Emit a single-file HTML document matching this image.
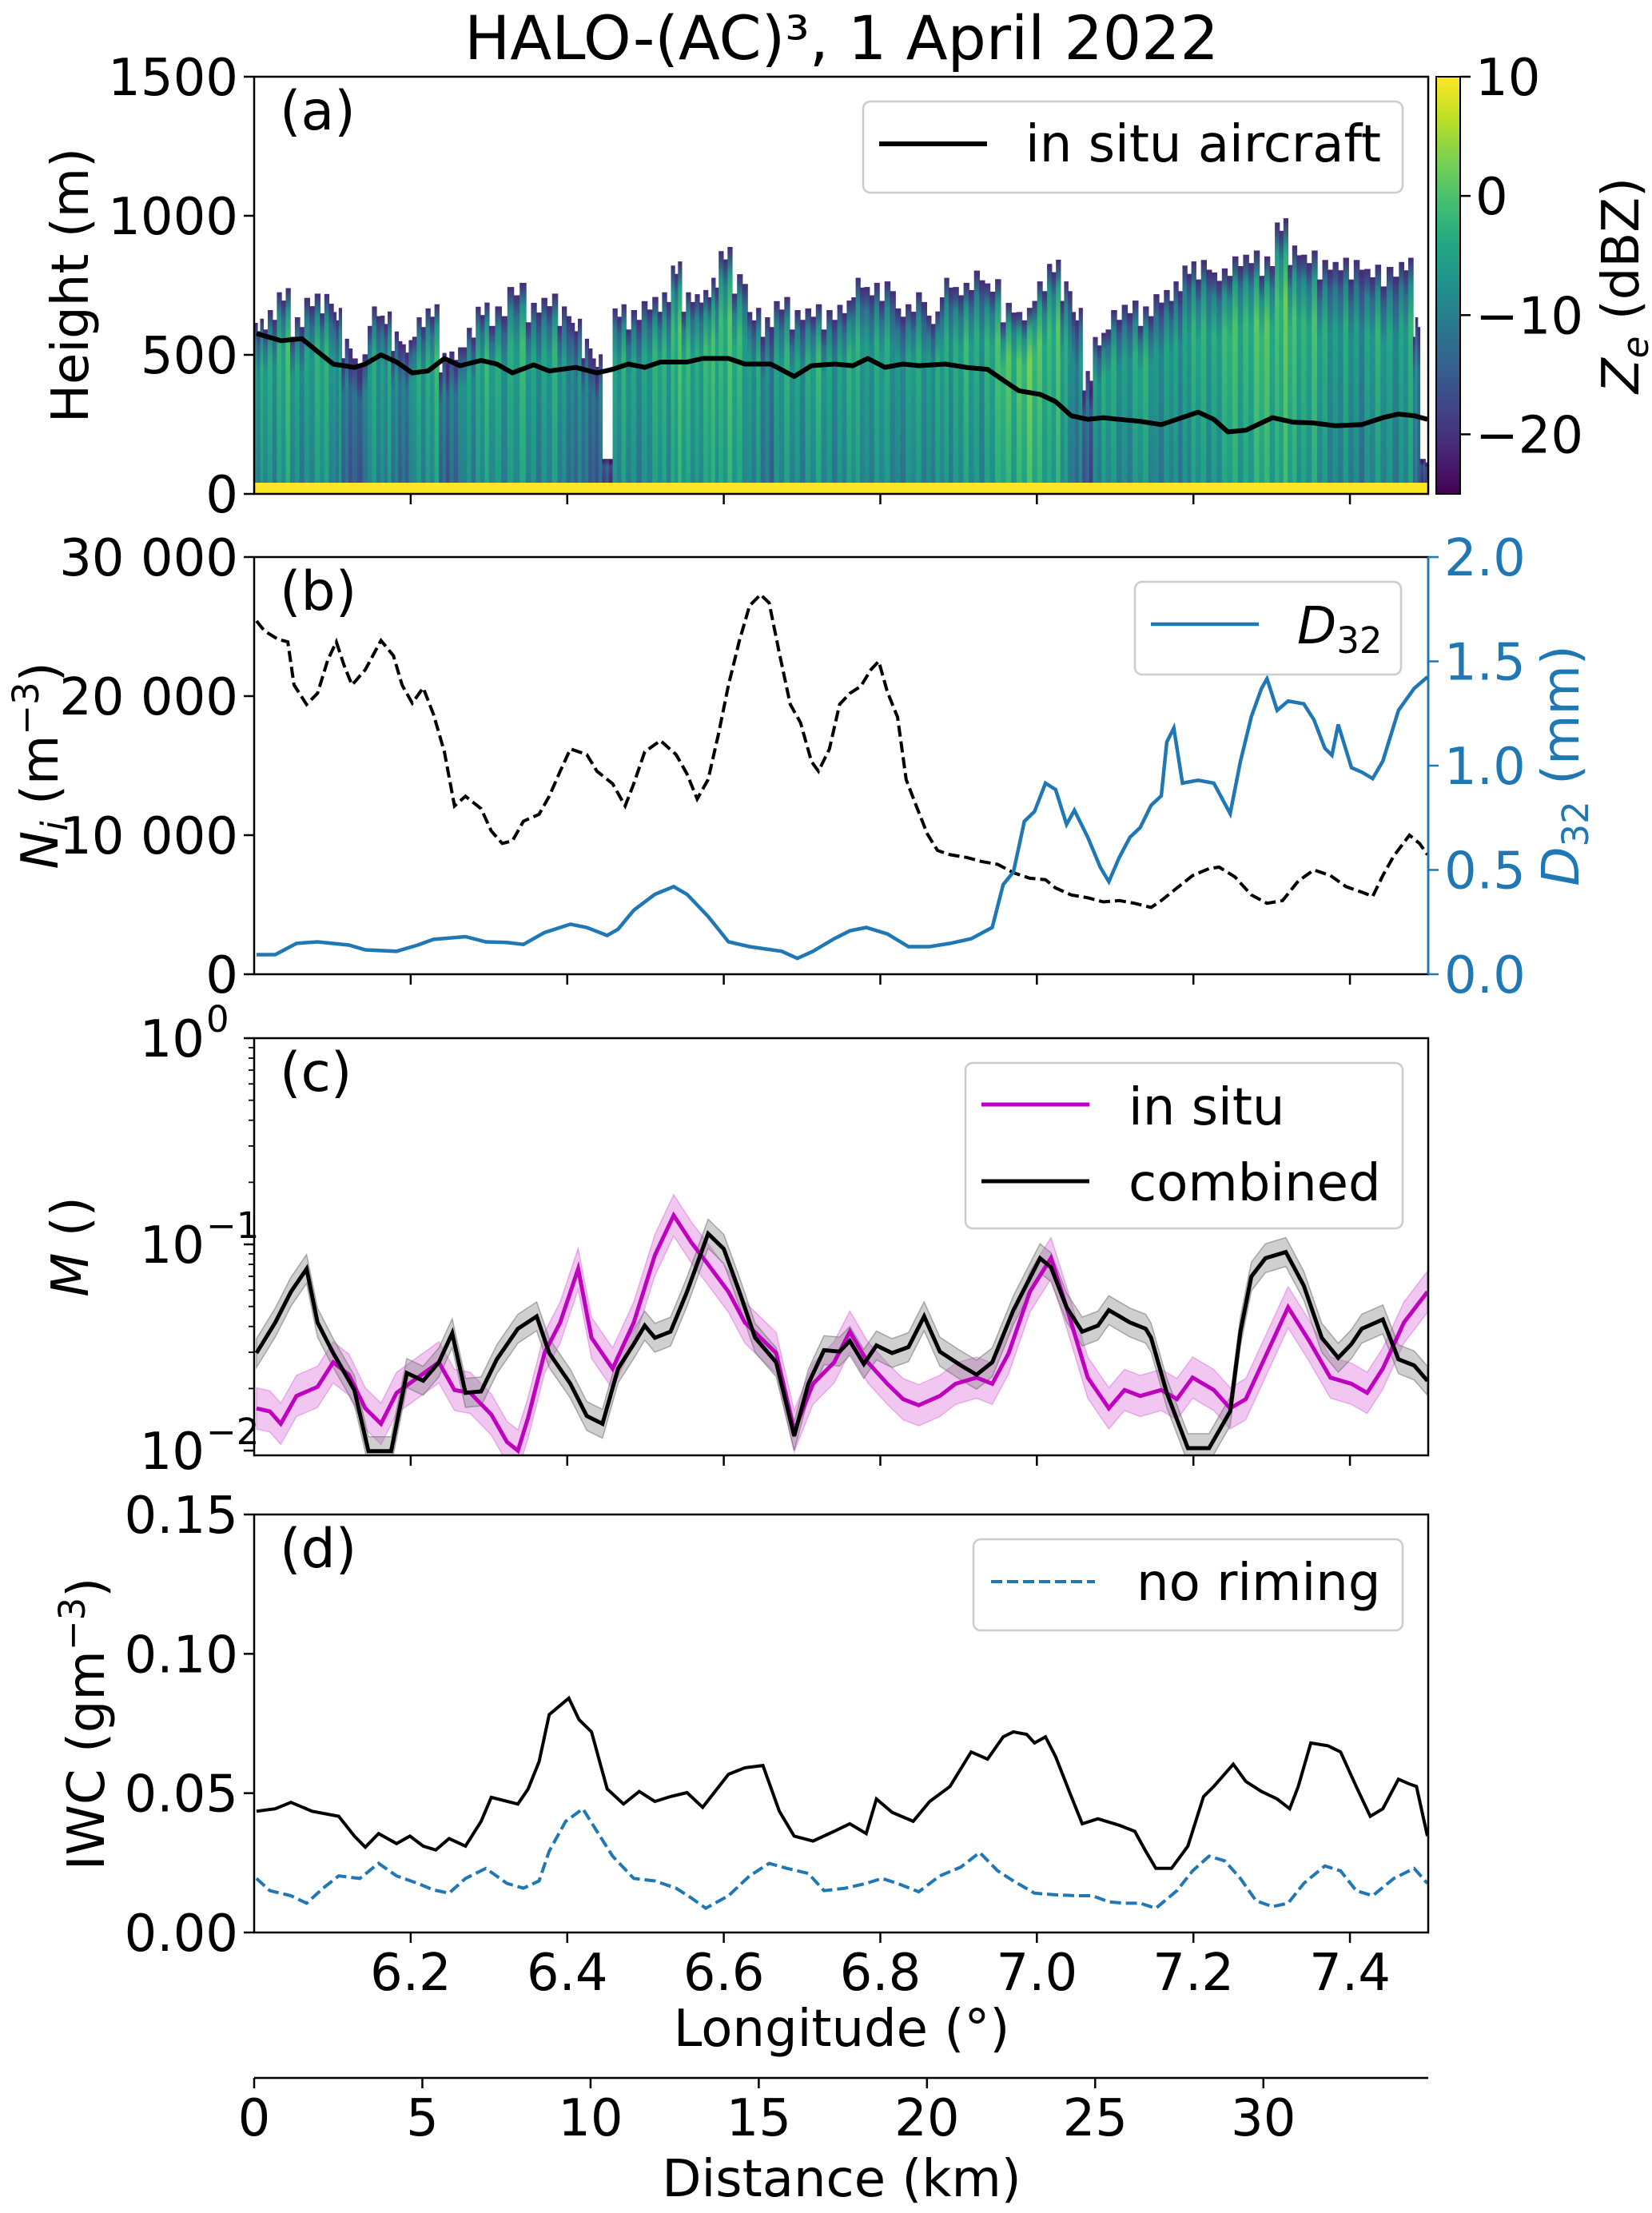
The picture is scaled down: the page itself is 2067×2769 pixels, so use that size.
<!DOCTYPE html>
<html><head><meta charset="utf-8"><style>
html,body{margin:0;padding:0;background:#fff;}
svg{display:block;font-family:"DejaVu Sans","Liberation Sans",sans-serif;}
</style></head><body>
<svg id="fig" xmlns="http://www.w3.org/2000/svg" width="2067" height="2769" viewBox="0 0 2067 2769">
<defs>
<linearGradient id="viridisV" x1="0" y1="1" x2="0" y2="0">
<stop offset="0" stop-color="#440154"/><stop offset="0.1" stop-color="#482475"/><stop offset="0.2" stop-color="#414487"/><stop offset="0.3" stop-color="#355f8d"/><stop offset="0.4" stop-color="#2a788e"/><stop offset="0.5" stop-color="#21918c"/><stop offset="0.6" stop-color="#22a884"/><stop offset="0.7" stop-color="#44bf70"/><stop offset="0.8" stop-color="#7ad151"/><stop offset="0.9" stop-color="#bddf26"/><stop offset="1" stop-color="#fde725"/>
</linearGradient>
<clipPath id="clipA"><rect x="318" y="96" width="1469" height="522"/></clipPath>
<clipPath id="clipB"><rect x="318" y="697" width="1469" height="522"/></clipPath>
<clipPath id="clipC"><rect x="318" y="1299" width="1469" height="522"/></clipPath>
<clipPath id="clipD"><rect x="318" y="1895" width="1469" height="523"/></clipPath>
</defs>
<text x="1053" y="74" font-size="76" text-anchor="middle">HALO-(AC)³, 1 April 2022</text>
<g id="layer"></g>
</svg>
<script>
// ---------- data ----------
const AC_LON=[6.003,6.034,6.061,6.081,6.101,6.128,6.142,6.162,6.182,6.202,6.222,6.243,6.263,6.290,6.310,6.330,6.357,6.377,6.411,6.438,6.458,6.478,6.499,6.519,6.553,6.573,6.606,6.627,6.660,6.690,6.712,6.741,6.765,6.784,6.806,6.829,6.849,6.883,6.910,6.937,6.957,6.977,7.004,7.024,7.044,7.065,7.085,7.105,7.132,7.159,7.179,7.206,7.226,7.244,7.267,7.301,7.327,7.354,7.381,7.415,7.442,7.462,7.482,7.499];
const AC_H=[577,551,558,512,467,455,467,500,474,435,442,487,461,480,467,435,464,442,455,435,448,467,455,474,474,487,487,467,467,422,461,467,461,487,455,467,461,467,455,448,409,371,358,332,281,268,274,268,261,249,268,294,268,223,229,274,258,255,245,249,274,287,281,268];
const RAD_LON=[6.003,6.020,6.038,6.054,6.074,6.094,6.108,6.115,6.135,6.155,6.168,6.182,6.195,6.209,6.229,6.243,6.256,6.276,6.290,6.310,6.337,6.357,6.377,6.398,6.411,6.425,6.438,6.451,6.465,6.485,6.505,6.526,6.539,6.553,6.573,6.586,6.601,6.620,6.640,6.654,6.674,6.694,6.714,6.735,6.755,6.771,6.788,6.809,6.829,6.849,6.869,6.883,6.903,6.923,6.943,6.964,6.984,7.004,7.022,7.038,7.051,7.065,7.078,7.098,7.119,7.139,7.159,7.179,7.193,7.213,7.233,7.253,7.274,7.294,7.314,7.327,7.348,7.368,7.388,7.408,7.429,7.449,7.476,7.485,7.493,7.499];
const RAD_TOP=[615,641,725,615,705,699,654,538,487,654,641,564,538,615,667,487,512,577,673,654,744,667,705,654,615,538,487,126,667,641,693,705,821,705,718,757,873,770,654,615,693,641,667,641,680,757,744,744,667,705,641,757,744,783,757,667,654,744,827,744,654,422,564,641,680,654,718,744,821,821,796,834,860,834,976,873,860,821,834,821,809,796,834,615,126,113];
const RAD_Z=[-5,-4,-2,-5,-4,-3,-6,-10,-11,-4,-5,-8,-9,-4,-3,-10,-9,-5,-3,-4,-3,-5,-4,-6,-8,-9,-11,-14,-4,-5,-4,-3,-1,-2,-3,-1,-1,-2,-5,-8,-4,-5,-3,-5,-4,-3,-5,-4,-6,-4,-5,-4,-3,-4,-2,0,1,0,-1,-4,-8,-12,-5,-4,-5,-3,-6,-5,-4,-3,-3,-1,-1,0,0,-1,-2,-4,-5,-6,-4,-5,-4,-8,-15,-15];
const NI_LON=[6.003,6.013,6.030,6.043,6.051,6.067,6.081,6.094,6.105,6.115,6.125,6.142,6.162,6.178,6.189,6.202,6.216,6.229,6.243,6.256,6.270,6.290,6.303,6.317,6.330,6.344,6.364,6.377,6.391,6.404,6.425,6.438,6.458,6.474,6.485,6.499,6.519,6.539,6.553,6.566,6.580,6.593,6.606,6.620,6.633,6.647,6.658,6.671,6.685,6.698,6.712,6.721,6.735,6.748,6.761,6.775,6.788,6.798,6.809,6.822,6.833,6.846,6.860,6.873,6.889,6.910,6.930,6.950,6.970,6.991,7.011,7.024,7.044,7.065,7.085,7.105,7.125,7.146,7.159,7.179,7.199,7.220,7.233,7.253,7.274,7.294,7.314,7.334,7.354,7.375,7.395,7.415,7.429,7.442,7.456,7.476,7.489,7.499];
const NI=[25400,24700,24100,23900,20800,19400,20200,22600,23900,22200,20800,21900,24000,22900,20800,19500,20600,18700,16000,12100,12800,11900,10300,9400,9600,11000,11500,12800,14600,16200,15800,14600,13700,12100,13700,16000,16800,15800,14400,12600,14000,17200,20800,24000,26500,27300,26700,23100,19400,18100,15300,14600,16200,19400,20200,20700,21900,22500,20300,18500,14000,12100,10100,8900,8600,8400,8100,7900,7300,6900,6800,6200,5700,5500,5200,5300,5100,4800,5300,6200,7100,7600,7700,7000,5700,5100,5300,6700,7500,7100,6300,5900,5600,7100,8500,10000,9400,8600];
const D32_LON=[6.003,6.027,6.054,6.081,6.121,6.142,6.182,6.209,6.229,6.270,6.296,6.323,6.344,6.371,6.404,6.425,6.451,6.465,6.485,6.512,6.536,6.553,6.580,6.606,6.633,6.674,6.694,6.714,6.741,6.761,6.782,6.809,6.836,6.863,6.889,6.916,6.943,6.957,6.970,6.984,6.997,7.011,7.024,7.038,7.048,7.065,7.081,7.092,7.105,7.119,7.132,7.146,7.159,7.166,7.175,7.186,7.206,7.226,7.247,7.260,7.274,7.287,7.294,7.307,7.321,7.341,7.354,7.368,7.377,7.385,7.402,7.415,7.429,7.442,7.462,7.482,7.499];
const D32=[0.094,0.094,0.148,0.155,0.14,0.117,0.11,0.14,0.167,0.18,0.155,0.152,0.143,0.2,0.24,0.224,0.186,0.216,0.307,0.383,0.42,0.383,0.277,0.155,0.132,0.11,0.076,0.11,0.17,0.208,0.224,0.193,0.132,0.132,0.148,0.17,0.224,0.43,0.49,0.733,0.78,0.916,0.885,0.718,0.786,0.657,0.513,0.444,0.558,0.657,0.703,0.81,0.855,1.113,1.18,0.916,0.93,0.916,0.77,1.02,1.235,1.37,1.417,1.265,1.31,1.296,1.22,1.083,1.05,1.197,0.99,0.969,0.938,1.022,1.265,1.37,1.425];
const MC_LON=[6.003,6.027,6.047,6.067,6.081,6.101,6.128,6.146,6.175,6.195,6.216,6.236,6.253,6.270,6.290,6.310,6.337,6.361,6.377,6.404,6.425,6.445,6.465,6.485,6.499,6.512,6.532,6.553,6.580,6.600,6.620,6.640,6.667,6.690,6.708,6.728,6.748,6.761,6.779,6.795,6.815,6.836,6.856,6.876,6.903,6.923,6.943,6.970,7.004,7.018,7.038,7.058,7.078,7.092,7.119,7.139,7.146,7.166,7.193,7.220,7.247,7.260,7.274,7.292,7.318,7.341,7.364,7.385,7.402,7.415,7.442,7.462,7.482,7.499];
const M_COMB=[-1.527,-1.379,-1.23,-1.119,-1.379,-1.527,-1.706,-2.003,-2.003,-1.624,-1.661,-1.572,-1.431,-1.72,-1.713,-1.557,-1.409,-1.349,-1.527,-1.676,-1.832,-1.87,-1.602,-1.483,-1.394,-1.453,-1.423,-1.23,-0.948,-1.022,-1.23,-1.453,-1.572,-1.929,-1.676,-1.513,-1.52,-1.468,-1.58,-1.49,-1.527,-1.498,-1.349,-1.52,-1.587,-1.632,-1.572,-1.319,-1.067,-1.111,-1.305,-1.423,-1.394,-1.319,-1.379,-1.409,-1.453,-1.72,-1.988,-1.988,-1.81,-1.423,-1.156,-1.067,-1.037,-1.2,-1.453,-1.55,-1.483,-1.409,-1.364,-1.557,-1.587,-1.661];
const MI_LON=[6.003,6.020,6.034,6.054,6.081,6.101,6.121,6.142,6.162,6.182,6.209,6.236,6.256,6.276,6.303,6.323,6.337,6.350,6.371,6.391,6.414,6.431,6.458,6.485,6.512,6.536,6.559,6.580,6.606,6.627,6.647,6.667,6.690,6.714,6.741,6.761,6.784,6.809,6.829,6.849,6.876,6.896,6.923,6.943,6.964,6.991,7.018,7.038,7.065,7.092,7.112,7.132,7.159,7.179,7.199,7.226,7.247,7.267,7.294,7.321,7.348,7.375,7.402,7.422,7.442,7.469,7.499];
const M_INSITU=[-1.795,-1.81,-1.87,-1.735,-1.691,-1.572,-1.632,-1.795,-1.87,-1.72,-1.646,-1.572,-1.706,-1.72,-1.825,-1.958,-2.0,-1.84,-1.527,-1.379,-1.119,-1.453,-1.602,-1.379,-1.052,-0.859,-0.993,-1.097,-1.23,-1.379,-1.453,-1.527,-1.906,-1.676,-1.572,-1.423,-1.572,-1.676,-1.75,-1.78,-1.735,-1.676,-1.646,-1.676,-1.527,-1.23,-1.067,-1.305,-1.646,-1.795,-1.706,-1.735,-1.706,-1.75,-1.646,-1.706,-1.795,-1.75,-1.527,-1.305,-1.468,-1.646,-1.676,-1.72,-1.602,-1.379,-1.23];
const IWC_LON=[6.003,6.027,6.047,6.074,6.108,6.128,6.142,6.159,6.182,6.199,6.216,6.232,6.249,6.270,6.290,6.303,6.337,6.350,6.364,6.377,6.402,6.415,6.431,6.451,6.472,6.492,6.512,6.532,6.553,6.573,6.606,6.627,6.650,6.671,6.690,6.714,6.741,6.761,6.782,6.795,6.815,6.842,6.863,6.889,6.916,6.937,6.957,6.970,6.987,6.997,7.011,7.024,7.044,7.058,7.078,7.105,7.125,7.139,7.152,7.172,7.193,7.213,7.226,7.251,7.267,7.287,7.307,7.323,7.334,7.350,7.372,7.388,7.408,7.426,7.442,7.462,7.476,7.485,7.499];
const IWC=[0.0435,0.0444,0.0467,0.0435,0.0417,0.0346,0.0306,0.0355,0.0319,0.0346,0.031,0.0296,0.0337,0.031,0.0399,0.0485,0.0461,0.0515,0.0613,0.0782,0.0841,0.0764,0.072,0.0515,0.0461,0.0506,0.047,0.0488,0.0502,0.0449,0.0568,0.0591,0.0599,0.0435,0.0346,0.0328,0.0363,0.039,0.0355,0.0479,0.0431,0.0399,0.047,0.0524,0.0648,0.0622,0.0702,0.072,0.0711,0.068,0.0702,0.0631,0.0488,0.039,0.0408,0.0385,0.0363,0.0292,0.023,0.023,0.031,0.0488,0.0524,0.0604,0.0542,0.0506,0.0479,0.0444,0.0524,0.068,0.067,0.0648,0.0524,0.0417,0.0444,0.055,0.0533,0.0524,0.0346];
const NR_LON=[6.003,6.020,6.047,6.067,6.088,6.108,6.135,6.159,6.182,6.209,6.229,6.249,6.270,6.296,6.323,6.344,6.364,6.377,6.398,6.420,6.438,6.458,6.485,6.512,6.539,6.559,6.577,6.606,6.633,6.658,6.681,6.708,6.728,6.755,6.782,6.802,6.822,6.849,6.876,6.903,6.927,6.950,6.970,6.997,7.024,7.051,7.071,7.092,7.112,7.132,7.152,7.179,7.199,7.220,7.240,7.260,7.280,7.301,7.321,7.341,7.368,7.388,7.408,7.429,7.456,7.482,7.499];
const IWC_NR=[0.0194,0.015,0.0132,0.0105,0.0159,0.0203,0.0194,0.0248,0.0203,0.0176,0.0153,0.0141,0.0194,0.023,0.0176,0.0159,0.0185,0.0292,0.0399,0.0444,0.0363,0.0274,0.0194,0.0185,0.0159,0.0123,0.0087,0.0132,0.0203,0.0248,0.023,0.0212,0.015,0.0159,0.0176,0.0194,0.0176,0.0146,0.0203,0.0235,0.0287,0.0221,0.0185,0.0141,0.0135,0.0132,0.0132,0.011,0.0105,0.0105,0.0087,0.015,0.0221,0.0274,0.0257,0.0194,0.0114,0.0093,0.0105,0.0176,0.0239,0.0221,0.015,0.0132,0.0194,0.023,0.0176];
const LON_TICKS=[6.2,6.4,6.6,6.8,7.0,7.2,7.4];
const LON_LABELS=["6.2","6.4","6.6","6.8","7.0","7.2","7.4"];
const KM_TICKS=[0,5,10,15,20,25,30];
const ZE_TICKS=[10,0,-10,-20];

// ---------- helpers ----------
const NS="http://www.w3.org/2000/svg";
const layer=document.getElementById('layer');
const X0=318,X1=1787;
const xs=l=>X0+(l-6.0)/1.5*(X1-X0);
const P={a:[96,618],b:[697,1219],c:[1299,1821],d:[1895,2418]};
const lin=(top,bot,lo,hi)=>v=>bot-(v-lo)/(hi-lo)*(bot-top);
const yA=lin(96,618,0,1500), yBl=lin(697,1219,0,30000), yBr=lin(697,1219,0,2.0);
const yC=lin(1299,1821,-2.023,0), yD=lin(1895,2418,0,0.15);
function mk(tag,attrs,parent){const e=document.createElementNS(NS,tag);for(const k in attrs)e.setAttribute(k,attrs[k]);(parent||layer).appendChild(e);return e;}
function pathOf(lons,vals,ys){return lons.map((l,i)=>(i?'L':'M')+xs(l).toFixed(1)+','+ys(vals[i]).toFixed(1)).join('');}
const VIR=['#440154','#482475','#414487','#355f8d','#2a788e','#21918c','#22a884','#44bf70','#7ad151','#bddf26','#fde725'];
function hex(h){return[1,3,5].map(i=>parseInt(h.substr(i,2),16));}
function vir(t){t=Math.max(0,Math.min(1,t));const f=t*10,i=Math.min(9,Math.floor(f)),r=f-i;const a=hex(VIR[i]),b=hex(VIR[i+1]);return 'rgb('+a.map((v,k)=>Math.round(v+(b[k]-v)*r)).join(',')+')';}
const zt=z=>(z+25)/35;

// ---------- panel (a) radar ----------
const gA=mk('g',{'clip-path':'url(#clipA)'});


const defs=document.querySelector('defs');
const SUBZ=[0,-3,2,-2,1,-4];
const SUBH=[0,-30,15,-50,20,-15];
RAD_LON.forEach((l,i)=>{
  const xl=i?xs((l+RAD_LON[i-1])/2):X0;
  const xr=i<RAD_LON.length-1?xs((l+RAD_LON[i+1])/2):X1;
  const n=3, w=(xr-xl)/n;
  for(let s=0;s<n;s++){
    const k=(i*n+s)%SUBZ.length;
    const z=RAD_Z[i]+SUBZ[k];
    const top=Math.max(60,RAD_TOP[i]+(RAD_TOP[i]>200?SUBH[k]:0));
    const gid='cg'+i+'_'+s;
    const gr=mk('linearGradient',{id:gid,x1:0,y1:0,x2:0,y2:1},defs);
    mk('stop',{offset:0,'stop-color':vir(zt(-21))},gr);
    mk('stop',{offset:0.12,'stop-color':vir(zt(z-6))},gr);
    mk('stop',{offset:0.3,'stop-color':vir(zt(z))},gr);
    mk('stop',{offset:1,'stop-color':vir(zt(z-3))},gr);
    const r=mk('rect',{x:(xl+s*w).toFixed(1),y:yA(top).toFixed(1),width:(w+0.8).toFixed(1),height:(yA(40)-yA(top)).toFixed(1),fill:'url(#'+gid+')'},gA);
    
    
  }
});
const gnd=mk('rect',{x:X0,y:yA(40),width:X1-X0,height:yA(0)-yA(40),fill:'#fde725'},gA);


const ac=mk('path',{d:pathOf(AC_LON,AC_H,yA),fill:'none',stroke:'#000','stroke-width':6,'stroke-linejoin':'round'},gA);



// ---------- panel (b) ----------
const gB=mk('g',{'clip-path':'url(#clipB)'});
const ni=mk('path',{d:pathOf(NI_LON,NI,yBl),fill:'none',stroke:'#000','stroke-width':4,'stroke-dasharray':'14,6'},gB);


const d32=mk('path',{d:pathOf(D32_LON,D32,yBr),fill:'none',stroke:'#1f77b4','stroke-width':4.5},gB);



// ---------- panel (c) ----------
const gC=mk('g',{'clip-path':'url(#clipC)'});
function band(lons,vals,f){const up=lons.map((l,i)=>xs(l).toFixed(1)+','+yC(vals[i]+f).toFixed(1));const dn=lons.map((l,i)=>xs(l).toFixed(1)+','+yC(vals[i]-f).toFixed(1)).reverse();return 'M'+up.join('L')+'L'+dn.join('L')+'Z';}
const bI=mk('path',{d:band(MI_LON,M_INSITU,0.1),fill:'#bf00bf','fill-opacity':0.22,stroke:'#bf00bf','stroke-opacity':0.25,'stroke-width':1.5},gC);


const bC=mk('path',{d:band(MC_LON,M_COMB,0.07),fill:'#808080','fill-opacity':0.38,stroke:'#666','stroke-opacity':0.5,'stroke-width':1.5},gC);


const lI=mk('path',{d:pathOf(MI_LON,M_INSITU,yC),fill:'none',stroke:'#bf00bf','stroke-width':5},gC);


const lC=mk('path',{d:pathOf(MC_LON,M_COMB,yC),fill:'none',stroke:'#000','stroke-width':5},gC);



// ---------- panel (d) ----------
const gD=mk('g',{'clip-path':'url(#clipD)'});
const li=mk('path',{d:pathOf(IWC_LON,IWC,yD),fill:'none',stroke:'#000','stroke-width':4},gD);


const ln=mk('path',{d:pathOf(NR_LON,IWC_NR,yD),fill:'none',stroke:'#1f77b4','stroke-width':4,'stroke-dasharray':'14,6'},gD);



// ---------- axes ----------
const FS=64;
function txt(x,y,s,opt,name){const t=mk('text',Object.assign({x:x,y:y,'font-size':FS},opt||{}));t.textContent=s;return t;}
for(const k in P){
  const [t,b]=P[k];
  const fr=mk('rect',{x:X0,y:t,width:X1-X0,height:b-t,fill:'none',stroke:'#000','stroke-width':2.5});
  
  
  LON_TICKS.forEach(v=>{const tk=mk('line',{x1:xs(v),x2:xs(v),y1:b,y2:b+13,stroke:'#000','stroke-width':2.5});});
  txt(350,t+66,'('+k+')',{'font-size':68},'panel-label-'+k);
}
LON_TICKS.forEach((v,i)=>txt(xs(v),2490,LON_LABELS[i],{'text-anchor':'middle'},'x-tick-label'));
txt(1053,2560,'Longitude (°)',{'text-anchor':'middle'},'x-axis-title');
function ytick(y,s,name,left){const tk=mk('line',{x1:left-13,x2:left,y1:y,y2:y,stroke:'#000','stroke-width':2.5});if(s!==null)txt(left-20,y+23,s,{'text-anchor':'end'},name);}
[0,500,1000,1500].forEach(v=>ytick(yA(v),String(v),'height-tick-label',X0));
[[0,'0'],[10000,'10 000'],[20000,'20 000'],[30000,'30 000']].forEach(([v,s])=>ytick(yBl(v),s,'ni-tick-label',X0));
[0,0.05,0.10,0.15].forEach(v=>ytick(yD(v),v.toFixed(2),'iwc-tick-label',X0));
// log ticks
[-2,-1,0].forEach(e=>{const y=yC(e);const tk=mk('line',{x1:X0-13,x2:X0,y1:y,y2:y,stroke:'#000','stroke-width':2.5});
  const t=mk('text',{x:X0-62,y:y+23,'font-size':FS,'text-anchor':'end'});t.textContent='10';
  const s=mk('text',{x:X0-60,y:y-8,'font-size':45});s.textContent=(e<0?'−':'')+Math.abs(e);
  if(e<0)for(let m=2;m<10;m++){const yy=yC(e+Math.log10(m));const mt=mk('line',{x1:X0-7,x2:X0,y1:yy,y2:yy,stroke:'#000','stroke-width':1.8});}
});
// right axis b
const rax=mk('line',{x1:X1,x2:X1,y1:697,y2:1219,stroke:'#1f77b4','stroke-width':2.5});


[0,0.5,1.0,1.5,2.0].forEach(v=>{const y=yBr(v);const tk=mk('line',{x1:X1,x2:X1+13,y1:y,y2:y,stroke:'#1f77b4','stroke-width':2.5});txt(X1+20,y+23,v.toFixed(1),{fill:'#1f77b4'},'d32-tick-label');});
// colorbar
const cb=mk('rect',{x:1797,y:96,width:30,height:522,fill:'url(#viridisV)',stroke:'#000','stroke-width':2});


const yZ=lin(96,618,-25,10);
ZE_TICKS.forEach(v=>{const y=yZ(v);const tk=mk('line',{x1:1827,x2:1840,y1:y,y2:y,stroke:'#000','stroke-width':2.5});txt(1846,y+23,(v<0?'−':'')+Math.abs(v),{},'colorbar-tick-label');});
// axis titles
function vtitle(cx,cy,html,name,fill){const t=mk('text',{x:0,y:0,'font-size':FS,'text-anchor':'middle',transform:'translate('+cx+','+cy+') rotate(-90)',fill:fill||'#000'});t.innerHTML=html;}
vtitle(110,357,'Height (m)','height-axis-title');
vtitle(72,958,'<tspan font-style="italic">N</tspan><tspan font-style="italic" font-size="45" dy="12">i</tspan><tspan dy="-12"> (m</tspan><tspan font-size="45" dy="-24">−3</tspan><tspan dy="24">)</tspan>','ni-axis-title');
vtitle(110,1560,'<tspan font-style="italic">M</tspan> ()','m-axis-title');
vtitle(130,2157,'IWC (gm<tspan font-size="45" dy="-24">−3</tspan><tspan dy="24">)</tspan>','iwc-axis-title');
vtitle(2050,357,'<tspan font-style="italic">Z</tspan><tspan font-style="italic" font-size="45" dy="12">e</tspan><tspan dy="-12"> (dBZ)</tspan>','ze-axis-title');
vtitle(1975,958,'<tspan font-style="italic">D</tspan><tspan font-size="45" dy="12">32</tspan><tspan dy="-12"> (mm)</tspan>','d32-axis-title','#1f77b4');
// distance axis
const da=mk('line',{x1:X0,x2:X1,y1:2600,y2:2600,stroke:'#000','stroke-width':2.5});


const xkm=k=>X0+k/34.9*(X1-X0);
KM_TICKS.forEach(k=>{const tk=mk('line',{x1:xkm(k),x2:xkm(k),y1:2600,y2:2613,stroke:'#000','stroke-width':2.5});txt(xkm(k),2672,String(k),{'text-anchor':'middle'},'distance-tick-label');});
txt(1053,2748,'Distance (km)',{'text-anchor':'middle'},'distance-axis-title');
// legends
function lbox(x,y,w,h,name){const r=mk('rect',{x:x,y:y,width:w,height:h,rx:9,fill:'#fff','fill-opacity':0.8,stroke:'#ccc','stroke-width':2.5});}
function lline(x1,x2,y,st,w,dash,name){const l=mk('line',{x1:x1,x2:x2,y1:y,y2:y,stroke:st,'stroke-width':w});if(dash)l.setAttribute('stroke-dasharray',dash);}
lbox(1080,127,675,114,'legend-a');
lline(1100,1235,180,'#000',6,null,'legend-aircraft-swatch');
txt(1283,202,'in situ aircraft',{},'legend-aircraft-label');
lbox(1420,728,333,116,'legend-b');
lline(1440,1575,781,'#1f77b4',4.5,null,'legend-d32-swatch');
const tD=mk('text',{x:1623,y:805,'font-size':FS});tD.innerHTML='<tspan font-style="italic">D</tspan><tspan font-size="45" dy="12">32</tspan>';


lbox(1208,1330,547,207,'legend-c');
lline(1228,1363,1382,'#bf00bf',5,null,'legend-in-situ-swatch');
txt(1412,1407,'in situ',{},'legend-in-situ-label');
lline(1228,1363,1478,'#000',5,null,'legend-combined-swatch');
txt(1412,1502,'combined',{},'legend-combined-label');
lbox(1218,1926,537,114,'legend-d');
lline(1240,1370,1979,'#1f77b4',4,'14,6','legend-no-riming-swatch');
txt(1422,2002,'no riming',{},'legend-no-riming-label');
</script>
</body></html>
